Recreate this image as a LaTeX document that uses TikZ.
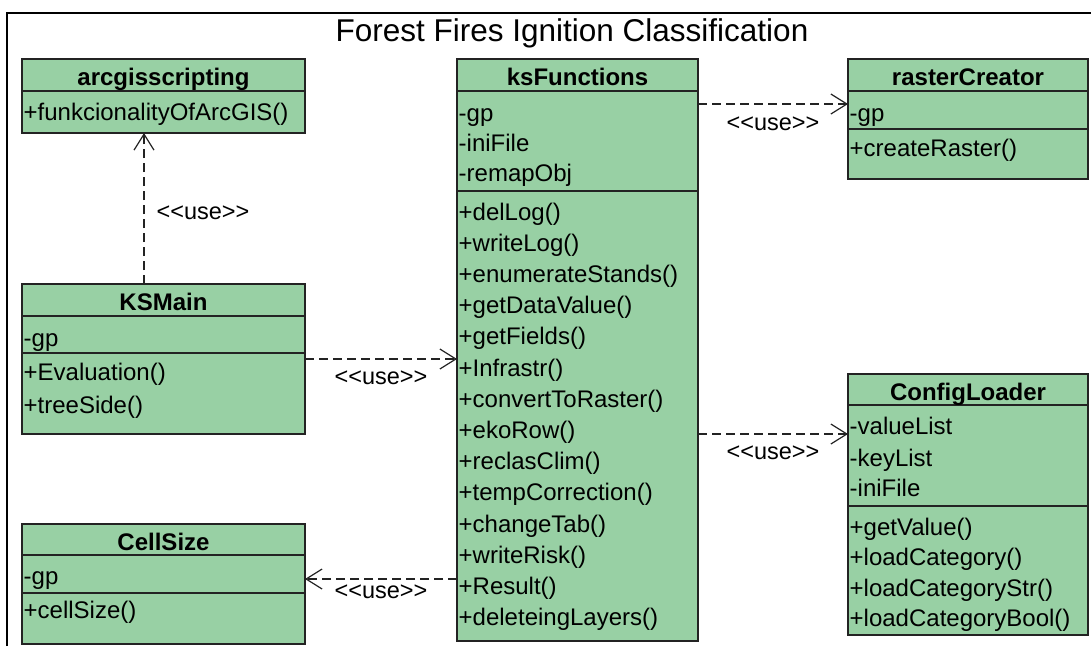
\documentclass[tikz,border=0pt]{standalone}
\usepackage{fontspec}
\setmainfont{Liberation Sans}[Ligatures=TeXOff]
\usetikzlibrary{arrows.meta,calc}

\definecolor{umlgreen}{RGB}{152,208,164}
\definecolor{umlline}{RGB}{35,35,35}

\tikzset{
  classbox/.style={draw=umlline, fill=umlgreen, line width=1.3pt,
    anchor=north west, inner sep=0pt, outer sep=0pt},
  classname/.style={font=\fontsize{24}{28}\selectfont\bfseries, anchor=base, inner sep=0pt},
  member/.style={font=\fontsize{24}{28}\selectfont, anchor=base west, inner sep=0pt},
  divider/.style={draw=umlline, line width=1.3pt},
  usedep/.style={draw=umlline, line width=1.2pt, dash pattern=on 9pt off 5pt,
    -{Straight Barb[length=16pt,width=20pt]}},
  uselabel/.style={font=\fontsize{23.5}{28}\selectfont, inner sep=0pt},
  frameline/.style={draw=black, line width=1.3pt},
}

% class box: name, position, width, height, header height, attribute section bottom
\newcommand{\umlclass}[7]{%
  \node[classbox, minimum width=#3pt, minimum height=#4pt] (#1) at (#2) {};
  \draw[divider] ([yshift=-#5pt]#1.north west) -- ([yshift=-#5pt]#1.north east);
  \draw[divider] ([yshift=-#6pt]#1.north west) -- ([yshift=-#6pt]#1.north east);
  \node[classname] (#1-title) at ($(#1.north)+(0,26)$) {#7};
}

\begin{document}
\begin{tikzpicture}[x=1pt,y=-1pt]
\useasboundingbox (0,0) rectangle (1091,646);
\fill[white] (0,0) rectangle (1091,646);

% diagram frame
\draw[frameline] (7,646) -- (7,13) -- (1091,13);
\node[font=\fontsize{31.5}{36}\selectfont, anchor=base, inner sep=0pt] (title) at (572,41)
  {Forest Fires Ignition Classification};

% arcgisscripting (single section below the name)
\node[classbox, minimum width=283pt, minimum height=74pt] (arc) at (22,59) {};
\draw[divider] ([yshift=-32pt]arc.north west) -- ([yshift=-32pt]arc.north east);
\node[classname] (arc-title) at ($(arc.north)+(0,26)$) {arcgisscripting};
\node[member] (arc-m1) at ($(arc.north west)+(1.5,61)$) {+funkcionalityOfArcGIS()};

% ksFunctions
\umlclass{ksf}{457,59}{241}{582}{32}{132}{ksFunctions}
\foreach \t/\o [count=\i] in {-gp/62,-iniFile/92,-remapObj/122}
  \node[member] (ksf-a\i) at ($(ksf.north west)+(1.5,\o)$) {\t};
\foreach \t [count=\i from 0] in {+delLog(),+writeLog(),+enumerateStands(),+getDataValue(),
    +getFields(),+Infrastr(),+convertToRaster(),+ekoRow(),+reclasClim(),+tempCorrection(),
    +changeTab(),+writeRisk(),+Result(),+deleteingLayers()}
  \node[member] (ksf-m\i) at ($(ksf.north west)+(1.5,161+31.2*\i)$) {\t};

% rasterCreator
\umlclass{rc}{848,59}{240}{120}{32}{70}{rasterCreator}
\node[member] (rc-a1) at ($(rc.north west)+(1.5,62)$) {-gp};
\node[member] (rc-m1) at ($(rc.north west)+(1.5,97)$) {+createRaster()};

% KSMain
\umlclass{ksm}{22,284}{283}{150}{32}{69}{KSMain}
\node[member] (ksm-a1) at ($(ksm.north west)+(1.5,62)$) {-gp};
\node[member] (ksm-m1) at ($(ksm.north west)+(1.5,96)$) {+Evaluation()};
\node[member] (ksm-m2) at ($(ksm.north west)+(1.5,129)$) {+treeSide()};

% CellSize
\umlclass{cell}{22,524}{283}{120}{31}{69}{CellSize}
\node[member] (cell-a1) at ($(cell.north west)+(1.5,60)$) {-gp};
\node[member] (cell-m1) at ($(cell.north west)+(1.5,94)$) {+cellSize()};

% ConfigLoader
\umlclass{cfg}{848,374}{240}{261}{31}{132}{ConfigLoader}
\foreach \t/\o [count=\i] in {-valueList/60,-keyList/92,-iniFile/122}
  \node[member] (cfg-a\i) at ($(cfg.north west)+(1.5,\o)$) {\t};
\foreach \t/\o [count=\i] in {+getValue()/161,+loadCategory()/191,+loadCategoryStr()/222,+loadCategoryBool()/252}
  \node[member] (cfg-m\i) at ($(cfg.north west)+(1.5,\o)$) {\t};

% usage dependencies
\draw[usedep] ([xshift=122pt]ksm.north west) coordinate (d1)
  -- (d1 |- arc.south)
  node[uselabel, pos=0.47, right=12pt] (l1) {<<use>>};
\draw[usedep] ([yshift=-75pt]ksm.north east) coordinate (d2)
  -- (d2 -| ksf.west)
  node[uselabel, midway, below=11pt] (l2) {<<use>>};
\draw[usedep] ([yshift=-45pt]ksf.north east) coordinate (d3)
  -- (d3 -| rc.west)
  node[uselabel, midway, below=12pt] (l3) {<<use>>};
\draw[usedep] ([yshift=-60pt]cfg.north west) coordinate (d4)
  (d4 -| ksf.east) -- (d4)
  node[uselabel, midway, below=11pt] (l4) {<<use>>};
\draw[usedep] ([yshift=-55pt]cell.north east) coordinate (d5)
  (d5 -| ksf.west) -- (d5)
  node[uselabel, midway, below=5pt] (l5) {<<use>>};
\end{tikzpicture}
\end{document}
